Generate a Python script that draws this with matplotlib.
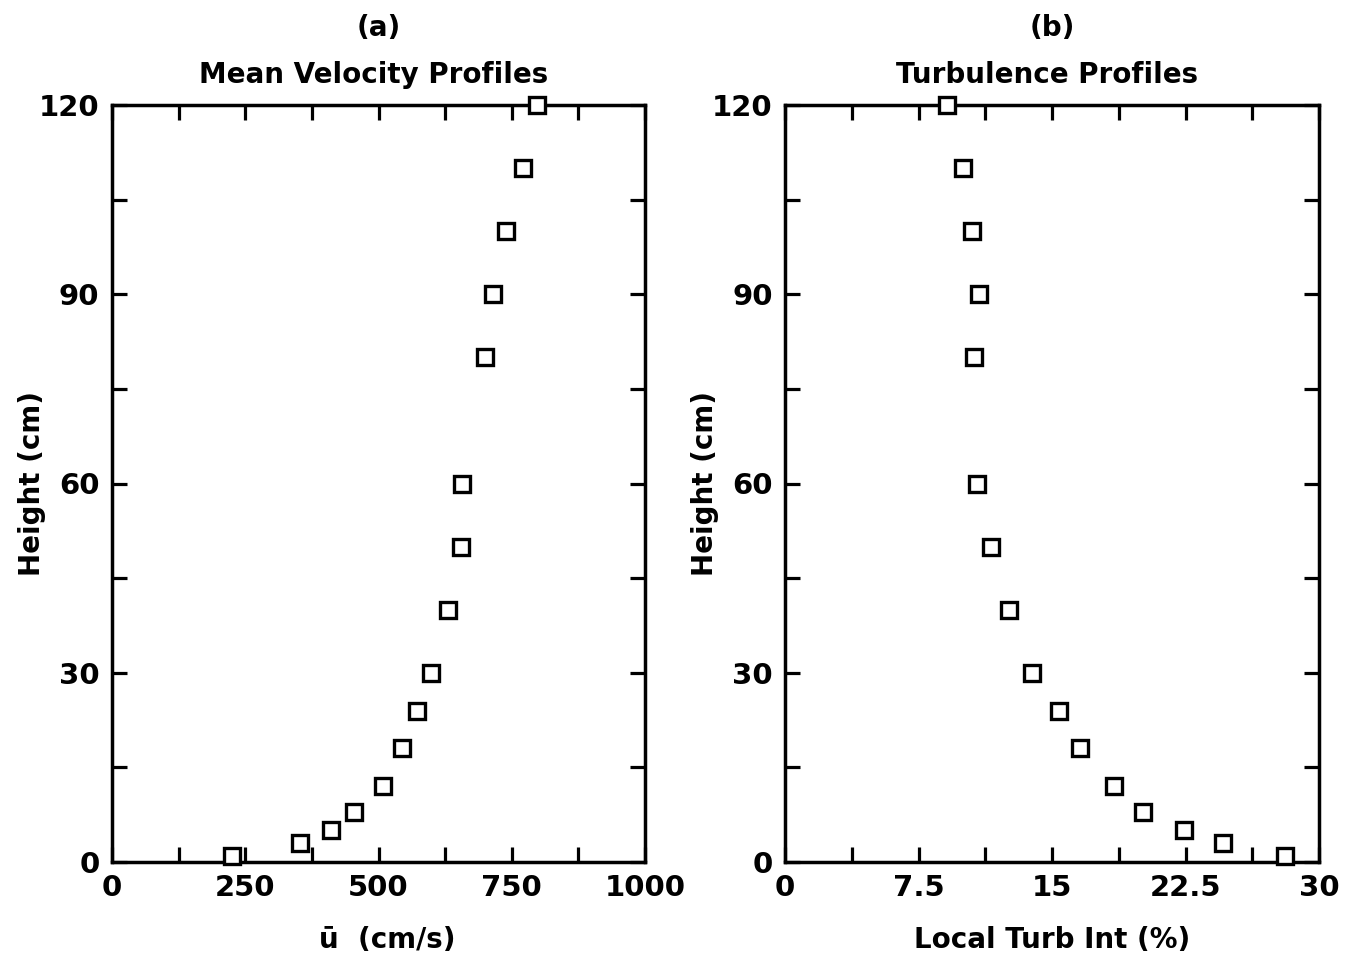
import matplotlib
matplotlib.use("Agg")
import matplotlib.pyplot as plt
import numpy as np

# ---- data ----
height_a = [1, 3, 5, 8, 12, 18, 24, 30, 40, 50, 60, 80, 90, 100, 110, 120]
u_mean = [226, 353, 411, 454, 509, 544, 572, 598, 631, 655, 656, 700, 715, 740, 772, 797]

height_b = [1, 3, 5, 8, 12, 18, 24, 30, 40, 50, 60, 80, 90, 100, 110, 120]
turb_int = [28.1, 24.6, 22.4, 20.1, 18.5, 16.6, 15.4, 13.9, 12.6, 11.6, 10.8, 10.6, 10.9, 10.5, 10.0, 9.1]

xticks_a = [0, 250, 500, 750, 1000]
xticklabels_a = ["0", "250", "500", "750", "1000"]
xminor_a = [125, 375, 625, 875]
xticks_b = [0, 7.5, 15, 22.5, 30]
xticklabels_b = ["0", "7.5", "15", "22.5", "30"]
xminor_b = [3.75, 11.25, 18.75, 26.25]
yticks = [0, 30, 60, 90, 120]
yticklabels = ["0", "30", "60", "90", "120"]
yminor = [15, 45, 75, 105]

panel_tags = ["(a)", "(b)"]
titles = ["Mean Velocity Profiles", "Turbulence Profiles"]
xlabels = ["\u016b  (cm/s)", "Local Turb Int (%)"]
ylabel = "Height (cm)"

plt.rcParams['font.family'] = ['DejaVu Sans']
plt.rcParams['font.weight'] = 'bold'

fig = plt.figure(figsize=(13.5, 9.58), dpi=100)
W, H = 1350, 958
ax_a = fig.add_axes([112 / W, (H - 862) / H, 533 / W, 757 / H])
ax_b = fig.add_axes([785 / W, (H - 862) / H, 534 / W, 757 / H])

specs = [
    (ax_a, u_mean, height_a, (0, 1000), xticks_a, xticklabels_a, xminor_a, 0.49, 0.517),
    (ax_b, turb_int, height_b, (0, 30), xticks_b, xticklabels_b, xminor_b, 0.49, 0.50),
]

for i, (ax, xs, ys, xlim, xt, xtl, xm, tx, lx) in enumerate(specs):
    ax.plot(xs, ys, linestyle='none', marker='s', markersize=12,
            markerfacecolor='white', markeredgecolor='black', markeredgewidth=2.4,
            clip_on=False, zorder=5)
    ax.set_xlim(*xlim)
    ax.set_ylim(0, 120)
    ax.set_xticks(xt)
    ax.set_xticklabels(xtl)
    ax.set_xticks(xm, minor=True)
    ax.set_yticks(yticks)
    ax.set_yticklabels(yticklabels)
    ax.set_yticks(yminor, minor=True)
    for s in ax.spines.values():
        s.set_linewidth(2.5)
    ax.tick_params(which='both', direction='in', length=10.5, width=2.3,
                   top=True, right=True, labelsize=21, pad=9)
    for lab in ax.get_xticklabels() + ax.get_yticklabels():
        lab.set_fontweight('bold')
    ax.text(0.5, 1.1017, panel_tags[i], transform=ax.transAxes, ha='center',
            va='center', fontsize=20, fontweight='bold')
    ax.text(tx, 1.0396, titles[i], transform=ax.transAxes, ha='center',
            va='center', fontsize=20, fontweight='bold')
    ax.text(lx, -0.103, xlabels[i], transform=ax.transAxes, ha='center',
            va='center', fontsize=20, fontweight='bold')
    ax.text(-0.150, 0.5, ylabel, transform=ax.transAxes, ha='center',
            va='center', rotation=90, fontsize=20, fontweight='bold')

fig.savefig("out.png", dpi=100)
